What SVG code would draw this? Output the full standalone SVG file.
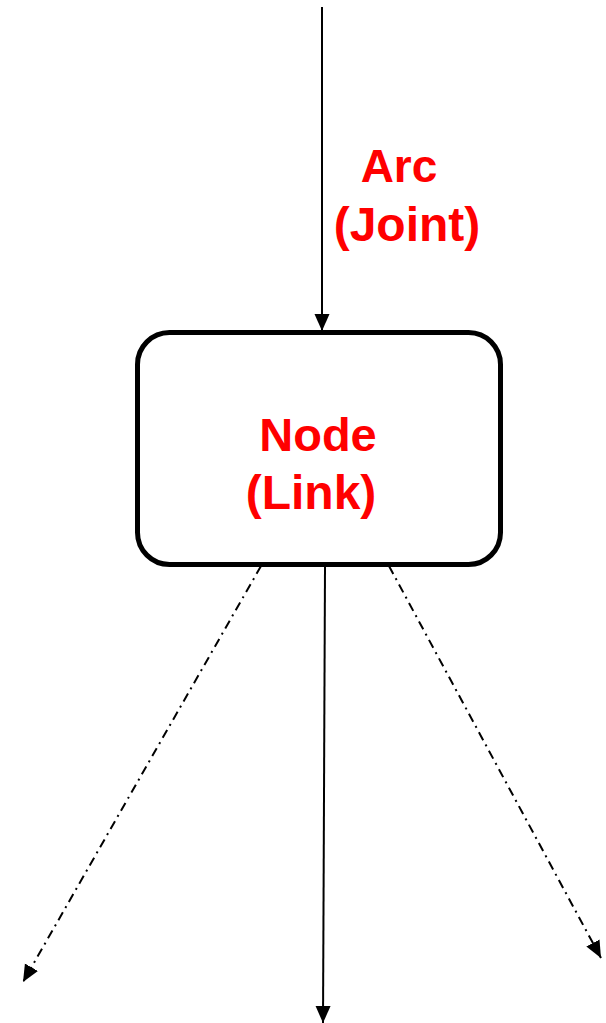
<svg xmlns="http://www.w3.org/2000/svg" width="606" height="1023" viewBox="0 0 606 1023">
  <style>
    .lbl { font-family: "Liberation Sans", Arial, sans-serif; font-weight: bold; fill: #ff0000; text-anchor: middle; }
    .solid { stroke: #000; stroke-width: 2; fill: none; }
    .dashdot { stroke: #000; stroke-width: 2; fill: none; stroke-dasharray: 9 5 2 5; }
  </style>
  <defs>
    <marker id="arrow" markerUnits="userSpaceOnUse" markerWidth="17" markerHeight="17" viewBox="0 0 17 17" refX="17" refY="8.5" orient="auto">
      <path d="M0,1 L17,8.5 L0,16 Z" fill="#000"/>
    </marker>
  </defs>
  <rect width="606" height="1023" fill="#fff"/>

  <!-- arcs: one incoming, three outgoing -->
  <g id="connectors">
    <line class="solid" x1="322" y1="7" x2="322" y2="331" marker-end="url(#arrow)"/>
    <line class="solid" x1="325" y1="567" x2="323" y2="1023" marker-end="url(#arrow)"/>
    <line class="dashdot" x1="261" y1="566" x2="23" y2="982" marker-end="url(#arrow)"/>
    <line class="dashdot" x1="389" y1="566" x2="601" y2="958" marker-end="url(#arrow)"/>
  </g>

  <g id="arc-label">
    <text class="lbl" x="399" y="182" font-size="46">Arc</text>
    <text class="lbl" x="407" y="241" font-size="48">(Joint)</text>
  </g>

  <g id="node-link">
    <rect x="137.5" y="332.5" width="363" height="232" rx="32" ry="32" fill="#fff" stroke="#000" stroke-width="5"/>
    <text class="lbl" x="318" y="451" font-size="47">Node</text>
    <text class="lbl" x="311" y="509" font-size="48">(Link)</text>
  </g>
</svg>
